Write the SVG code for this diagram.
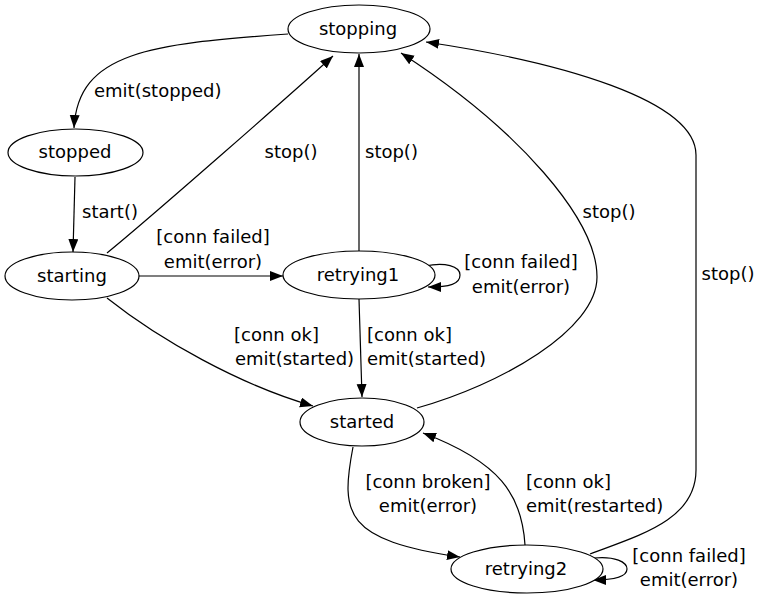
<svg xmlns="http://www.w3.org/2000/svg" width="761" height="600" viewBox="0 0 761 600">
<defs>
<marker id="arr" markerUnits="userSpaceOnUse" markerWidth="14" markerHeight="12" refX="13" refY="5" orient="auto">
<path d="M0,0 L13,5 L0,10 z" fill="#000"/>
</marker>
<style>
.node ellipse{fill:#fff;stroke:#000;stroke-width:1.2}
.node text{font-family:"DejaVu Sans",sans-serif;font-size:18px;text-anchor:middle;fill:#000}
.edges path{fill:none;stroke:#000;stroke-width:1.2;marker-end:url(#arr)}
.lbl{font-family:"DejaVu Sans",sans-serif;font-size:18px;fill:#000}
.c{text-anchor:middle}
</style>
</defs>
<rect width="761" height="600" fill="#fff"/>
<g id="edges" class="edges">
<path d="M288,34 C150,44 78,52 74,128"/>
<path d="M75,177 L73,252"/>
<path d="M107,253 C150,218 290,95 333,56"/>
<path d="M359,251 L359,54"/>
<path d="M417,408 C500,385 597,330 597,277 C597,220 520,130 401,53"/>
<path d="M590,554 C640,535 696,520 696,470 L696,155 C696,100 560,62 426,42"/>
<path d="M139,276 L283,276"/>
<path d="M425,266 C445,262 460,266 460,275 C460,284 450,287 428,287"/>
<path d="M107,298 C160,340 240,385 313,406"/>
<path d="M359,299 L362,397"/>
<path d="M353,447 C340,515 345,540 460,557"/>
<path d="M525,545 C522,495 500,462 423,433"/>
<path d="M594,558 C615,556 627,562 627,569 C627,577 615,580 593,580"/>
</g>
<g id="edge-labels">
<text class="lbl" x="94" y="97">emit(stopped)</text>
<text class="lbl" x="82" y="218">start()</text>
<text class="lbl c" x="291" y="158">stop()</text>
<text class="lbl" x="365" y="158">stop()</text>
<text class="lbl c" x="609" y="218">stop()</text>
<text class="lbl c" x="728" y="280">stop()</text>
<text class="lbl c" x="213" y="243">[conn failed]</text>
<text class="lbl c" x="213" y="268">emit(error)</text>
<text class="lbl c" x="521" y="268">[conn failed]</text>
<text class="lbl c" x="521" y="293">emit(error)</text>
<text class="lbl" x="234" y="341">[conn ok]</text>
<text class="lbl" x="235" y="365">emit(started)</text>
<text class="lbl" x="367" y="341">[conn ok]</text>
<text class="lbl" x="367" y="365">emit(started)</text>
<text class="lbl c" x="428" y="488">[conn broken]</text>
<text class="lbl c" x="428" y="512">emit(error)</text>
<text class="lbl" x="526" y="488">[conn ok]</text>
<text class="lbl" x="526" y="512">emit(restarted)</text>
<text class="lbl c" x="689" y="562">[conn failed]</text>
<text class="lbl c" x="689" y="586">emit(error)</text>
</g>
<g id="stopping" class="node"><ellipse cx="359" cy="29" rx="71" ry="24"/><text x="358" y="35">stopping</text></g>
<g id="stopped" class="node"><ellipse cx="75.5" cy="152.5" rx="67.5" ry="23.5"/><text x="75" y="158">stopped</text></g>
<g id="starting" class="node"><ellipse cx="72" cy="276" rx="67" ry="24"/><text x="72" y="282">starting</text></g>
<g id="retrying1" class="node"><ellipse cx="359" cy="275" rx="76" ry="24"/><text x="358" y="281">retrying1</text></g>
<g id="started" class="node"><ellipse cx="362" cy="422" rx="62" ry="24"/><text x="362" y="428">started</text></g>
<g id="retrying2" class="node"><ellipse cx="527" cy="569" rx="76" ry="24"/><text x="526" y="575">retrying2</text></g>
</svg>
